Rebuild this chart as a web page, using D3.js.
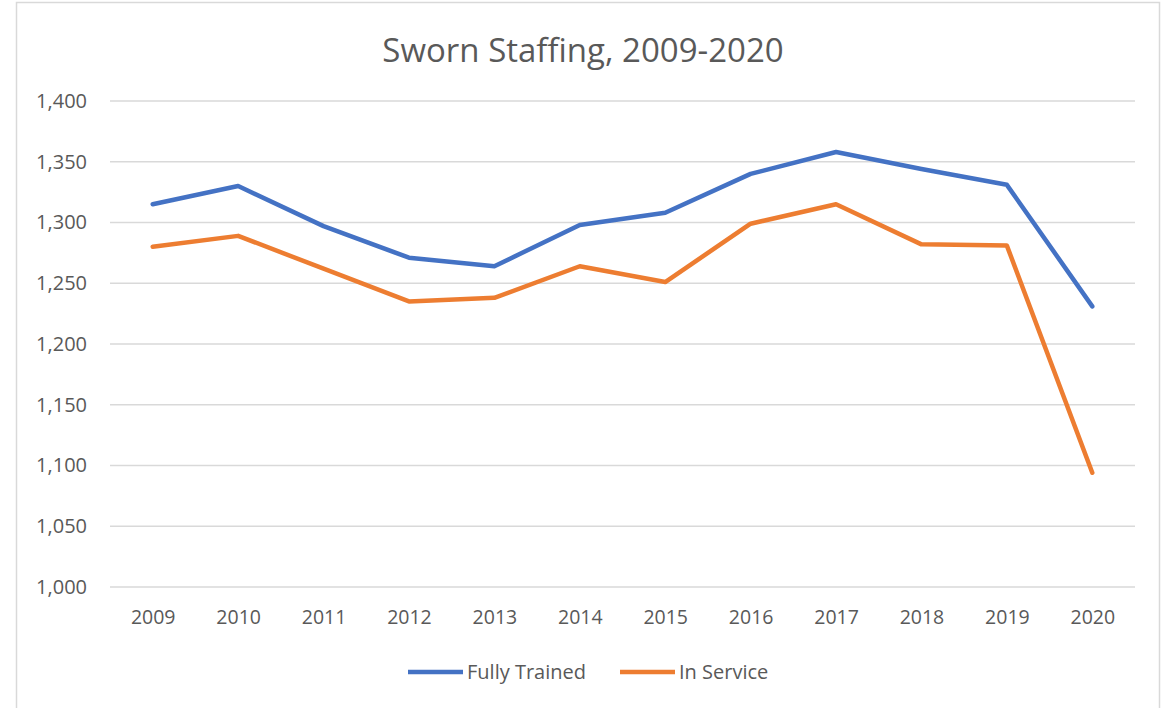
<!DOCTYPE html>
<html>
<head>
<meta charset="utf-8">
<script src="https://cdn.jsdelivr.net/npm/d3@7"></script>
<style>
  body { margin: 0; background: #fff; }
  text { font-family: "Open Sans", sans-serif; fill: #595959; }
</style>
</head>
<body>
<div id="chart"></div>
<script>
// chart data
var years = ["2009", "2010", "2011", "2012", "2013", "2014", "2015", "2016", "2017", "2018", "2019", "2020"];
var fullyTrained = [1315, 1330, 1297, 1271, 1264, 1298, 1308, 1340, 1358, 1344, 1331, 1231];
var inService = [1280, 1289, 1262, 1235, 1238, 1264, 1251, 1299, 1315, 1282, 1281, 1094];
var yTicks = [1000, 1050, 1100, 1150, 1200, 1250, 1300, 1350, 1400];
var seriesNames = ["Fully Trained", "In Service"];
var seriesColors = ["#4472C4", "#ED7D31"];

var svgWidth = 1165;
var svgHeight = 708;

var svg = d3.select("#chart")
    .append("svg")
    .attr("width", svgWidth)
    .attr("height", svgHeight);

// chart frame
svg.append("rect")
    .attr("x", 16.5)
    .attr("y", 2.5)
    .attr("width", 1143)
    .attr("height", 740)
    .attr("fill", "#fff")
    .attr("stroke", "#d9d9d9")
    .attr("stroke-width", 1.5);

// scales
var xScale = d3.scalePoint()
    .domain(years)
    .range([110, 1135])
    .padding(0.5);

var yScale = d3.scaleLinear()
    .domain([1000, 1400])
    .range([587, 101]);

// gridlines
svg.append("g")
    .selectAll("line")
    .data(yTicks)
    .enter()
    .append("line")
    .attr("x1", 110)
    .attr("x2", 1135)
    .attr("y1", d => yScale(d))
    .attr("y2", d => yScale(d))
    .attr("stroke", "#d9d9d9")
    .attr("stroke-width", 1.5);

// y axis labels
var yAxis = d3.axisLeft(yScale)
    .tickValues(yTicks)
    .tickFormat(d3.format(","))
    .tickSize(0)
    .tickPadding(0);

svg.append("g")
    .attr("transform", "translate(87, 0)")
    .call(yAxis)
    .call(g => g.select(".domain").remove())
    .selectAll("text")
    .style("font-size", "20px")
    .style("font-family", "Open Sans, sans-serif")
    .attr("fill", "#595959");

// x axis labels
var xAxis = d3.axisBottom(xScale)
    .tickSize(0)
    .tickPadding(0);

svg.append("g")
    .attr("transform", "translate(0, 610)")
    .call(xAxis)
    .call(g => g.select(".domain").remove())
    .selectAll("text")
    .style("font-size", "19.5px")
    .style("font-family", "Open Sans, sans-serif")
    .attr("fill", "#595959");

// lines
var line = d3.line()
    .x((d, i) => xScale(years[i]))
    .y(d => yScale(d));

[fullyTrained, inService].forEach(function(values, i) {
    svg.append("path")
        .datum(values)
        .attr("d", line)
        .attr("fill", "none")
        .attr("stroke", seriesColors[i])
        .attr("stroke-width", 4.5)
        .attr("stroke-linejoin", "round")
        .attr("stroke-linecap", "round");
});

// title
svg.append("text")
    .attr("x", 583)
    .attr("y", 62)
    .attr("text-anchor", "middle")
    .style("font-size", "33px")
    .text("Sworn Staffing, 2009-2020");

// legend
var legendX = [408, 620];
seriesNames.forEach(function(name, i) {
    svg.append("line")
        .attr("x1", legendX[i])
        .attr("x2", legendX[i] + 55)
        .attr("y1", 672)
        .attr("y2", 672)
        .attr("stroke", seriesColors[i])
        .attr("stroke-width", 4.5);
    svg.append("text")
        .attr("x", legendX[i] + 59)
        .attr("y", 679)
        .style("font-size", "20px")
        .text(name);
});
</script>
</body>
</html>
